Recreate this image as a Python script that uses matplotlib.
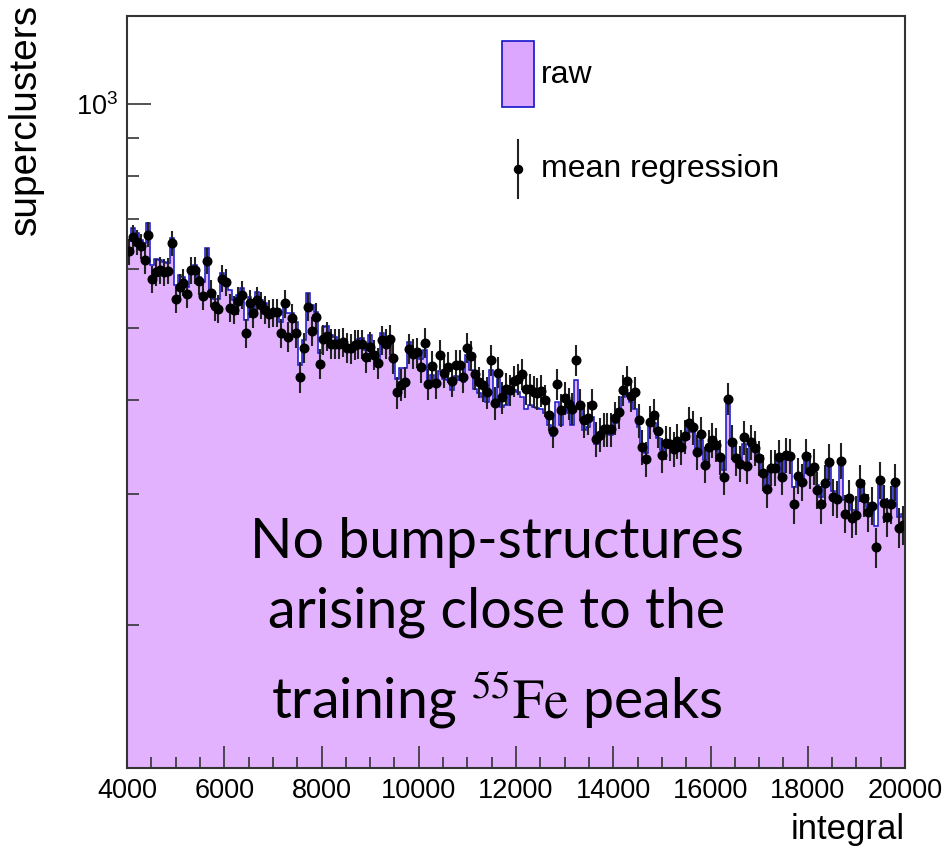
import numpy as np
import matplotlib
matplotlib.use("Agg")
import matplotlib.pyplot as plt
from matplotlib.patches import Rectangle
from matplotlib.lines import Line2D
from matplotlib.ticker import FixedLocator, NullFormatter

# ---------------- data ----------------
x_min, x_max, n_bins = 4000, 20000, 200

raw_counts = [
    654, 682, 671, 657, 651, 693, 608, 619, 617, 614,
    612, 661, 571, 589, 586, 568, 602, 608, 586, 577,
    640, 562, 548, 547, 593, 583, 562, 545, 554, 566,
    513, 551, 531, 559, 545, 540, 529, 526, 526, 510,
    542, 524, 524, 510, 446, 482, 557, 537, 526, 463,
    502, 503, 490, 486, 482, 482, 475, 472, 477, 484,
    485, 468, 490, 464, 453, 493, 487, 477, 461, 428,
    442, 442, 479, 468, 468, 455, 468, 420, 433, 418,
    438, 428, 426, 413, 431, 426, 423, 461, 440, 415,
    409, 404, 398, 440, 395, 428, 392, 395, 409, 413,
    411, 404, 389, 395, 392, 391, 389, 385, 371, 358,
    398, 371, 389, 385, 371, 426, 389, 365, 369, 380,
    350, 358, 369, 365, 360, 373, 389, 404, 409, 398,
    389, 369, 343, 340, 373, 373, 356, 343, 345, 347,
    345, 350, 347, 356, 367, 363, 345, 354, 333, 343,
    349, 345, 338, 323, 396, 350, 335, 333, 350, 329,
    349, 343, 333, 319, 308, 323, 323, 333, 318, 334,
    333, 306, 318, 313, 334, 323, 326, 308, 297, 311,
    329, 302, 297, 331, 294, 297, 285, 285, 308, 296,
    288, 291, 271, 313, 294, 288, 294, 310, 279, 282,
]

regression_counts = [
    634, 663, 652, 644, 617, 668, 582, 595, 598, 595,
    597, 650, 547, 568, 576, 556, 598, 598, 579, 552,
    616, 557, 535, 531, 583, 577, 533, 529, 544, 555,
    492, 540, 524, 545, 537, 529, 523, 525, 525, 492,
    540, 487, 516, 493, 430, 471, 534, 496, 518, 448,
    483, 488, 477, 477, 477, 479, 471, 470, 475, 476,
    476, 457, 472, 461, 449, 482, 477, 483, 456, 410,
    420, 423, 469, 462, 464, 443, 478, 421, 445, 422,
    461, 436, 443, 425, 446, 446, 430, 471, 459, 434,
    423, 419, 410, 453, 397, 436, 404, 415, 413, 425,
    427, 434, 415, 414, 411, 409, 412, 400, 383, 364,
    421, 388, 403, 396, 390, 453, 395, 376, 379, 395,
    355, 360, 366, 366, 366, 379, 386, 413, 425, 406,
    410, 376, 346, 334, 374, 382, 364, 338, 351, 350,
    344, 353, 346, 358, 373, 368, 341, 361, 328, 346,
    354, 349, 336, 316, 402, 352, 335, 329, 357, 327,
    352, 345, 335, 320, 304, 325, 325, 336, 316, 338,
    337, 290, 317, 311, 337, 322, 326, 303, 290, 310,
    331, 297, 295, 332, 282, 296, 278, 281, 310, 296,
    283, 289, 254, 313, 291, 279, 290, 311, 270, 272,
]

x_ticks = [4000, 6000, 8000, 10000, 12000, 14000, 16000, 18000, 20000]
x_tick_labels = ["4000", "6000", "8000", "10000", "12000", "14000", "16000", "18000", "20000"]
x_minor_step = 500
y_ticks = [1000]
y_tick_labels = [r"$\mathregular{10^{3}}$"]
y_minor_ticks = [200, 300, 400, 500, 600, 700, 800, 900]

legend_labels = ["raw", "mean regression"]
x_title = "integral"
y_title = "superclusters"
note_lines = ["No bump-structures", "arising close to the", r"training $^{55}\mathrm{Fe}$ peaks"]

# ---------------- style ----------------
plt.rcParams["font.family"] = ["Liberation Sans", "DejaVu Sans"]
plt.rcParams["mathtext.fontset"] = "custom"
plt.rcParams["mathtext.rm"] = "Liberation Sans"
plt.rcParams["mathtext.it"] = "Liberation Sans:italic"
plt.rcParams["mathtext.bf"] = "Liberation Sans:bold"

fill_col = "#E2B2FF"
line_col = "#1414C8"

W, H = 946, 850
fig = plt.figure(figsize=(W / 100, H / 100), dpi=100)
L, R, T, B = 127, 905, 16, 768
ax = fig.add_axes([L / W, 1 - B / H, (R - L) / W, (B - T) / H])

raw = np.array(raw_counts, dtype=float)
reg = np.array(regression_counts, dtype=float)
edges = np.linspace(x_min, x_max, n_bins + 1)
centers = 0.5 * (edges[:-1] + edges[1:])

ax.stairs(raw, edges, baseline=1, fill=True, color=fill_col, lw=0, zorder=1)
ax.stairs(raw, edges, baseline=1, color=line_col, lw=1.1, zorder=2)
ax.errorbar(centers, reg, yerr=np.sqrt(reg), fmt="o", color="black", ms=6.2,
            ecolor="#222222", elinewidth=1.5, capsize=0, zorder=3)

ax.set_yscale("log")
ax.set_xlim(x_min, x_max)
ax.set_ylim(128.4, 1313)

ax.set_xticks(x_ticks)
ax.set_xticklabels(x_tick_labels)
ax.xaxis.set_minor_locator(FixedLocator(np.arange(x_min, x_max + 1, x_minor_step)))
ax.set_yticks(y_ticks)
ax.set_yticklabels(y_tick_labels)
ax.yaxis.set_minor_locator(FixedLocator(y_minor_ticks))
ax.yaxis.set_minor_formatter(NullFormatter())

ax.tick_params(axis="both", which="both", direction="in", top=False, right=False,
               color="#333333", width=1.2)
ax.tick_params(axis="x", which="major", length=16, labelsize=19.5, pad=7)
ax.tick_params(axis="x", which="minor", length=8)
ax.tick_params(axis="y", which="major", length=17, labelsize=19.5, pad=6)
ax.tick_params(axis="y", which="minor", length=8.5)
for s in ax.spines.values():
    s.set_linewidth(1.5)
    s.set_color("#333333")
    s.set_zorder(5)

# axis titles
fig.text(905 / W, 1 - 829 / H, x_title, ha="right", va="center", fontsize=25)
fig.text(26 / W, 1 - 4 / H, y_title, ha="center", va="top", rotation=90, fontsize=28)

# legend (drawn manually in axes fraction)
ax.add_patch(Rectangle((0.482, 0.879), 0.041, 0.088, transform=ax.transAxes,
                       facecolor="#DCA8FF", edgecolor=line_col, lw=1.2, zorder=6))
ax.text(0.532, 0.921, legend_labels[0], transform=ax.transAxes, ha="left", va="center",
        fontsize=23, zorder=6)
ax.add_line(Line2D([0.5026, 0.5026], [0.758, 0.835], transform=ax.transAxes,
                   color="#222222", lw=1.5, zorder=6))
ax.add_line(Line2D([0.5026], [0.796], transform=ax.transAxes, marker="o", ms=5.8,
                   color="black", zorder=6))
ax.text(0.532, 0.796, legend_labels[1], transform=ax.transAxes, ha="left", va="center",
        fontsize=23, zorder=6)

# overlay note
note_y = [543, 612, 700]
for txt, yy in zip(note_lines, note_y):
    fig.text(497 / W, 1 - yy / H, txt, ha="center", va="center", fontsize=40,
             family=["Lato", "DejaVu Sans"], math_fontfamily="stix", color="black")

fig.savefig("out.png", dpi=100)
